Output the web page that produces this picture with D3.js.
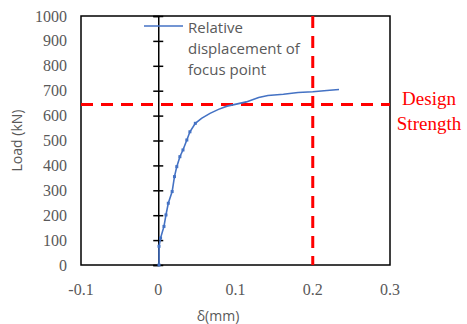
<!DOCTYPE html>
<html>
<head>
<meta charset="utf-8">
<script src="https://cdn.jsdelivr.net/npm/d3@7"></script>
<style>
  body { margin: 0; background: #fff; }
  svg { display: block; }
</style>
</head>
<body>
<svg id="chart" width="467" height="324"></svg>
<script>
// displacement (mm) vs load (kN)
const disp = [0.001, 0.001, 0.003, 0.0074, 0.010, 0.013, 0.018, 0.021, 0.024, 0.028, 0.032, 0.037, 0.041, 0.048, 0.056, 0.067, 0.078, 0.089, 0.101, 0.114, 0.130, 0.142, 0.162, 0.181, 0.200, 0.222, 0.234];
const load = [0, 75, 108, 155, 201, 248, 295, 355, 395, 435, 462, 502, 535, 569, 589, 609, 625, 638, 646, 655, 673, 681, 686, 693, 696, 702, 705];
const xTicks = [-0.1, 0, 0.1, 0.2, 0.3];
const yTicks = [0, 100, 200, 300, 400, 500, 600, 700, 800, 900, 1000];
const designLoad = 645;
const designDisp = 0.2;

const svg = d3.select("#chart");
const pLeft = 81, pRight = 390, pTop = 16, pBottom = 265;
const x = d3.scaleLinear().domain([-0.1, 0.3]).range([pLeft, pRight]);
const y = d3.scaleLinear().domain([0, 1000]).range([pBottom, pTop]);
const gray = "#595959";
const serif = "'Liberation Serif', 'DejaVu Serif', serif";
const sans = "'Open Sans', 'Liberation Sans', sans-serif";

// frame
svg.append("rect")
  .attr("x", pLeft).attr("y", pTop)
  .attr("width", pRight - pLeft).attr("height", pBottom - pTop)
  .attr("fill", "none").attr("stroke", "#000").attr("stroke-width", 1.5);

// y axis through x = 0 with crossing ticks
const yAxis = svg.append("g")
  .attr("transform", `translate(${x(0)},0)`)
  .call(d3.axisLeft(y).tickValues(yTicks).tickSize(5).tickFormat(""));
yAxis.select(".domain").attr("stroke", "#000").attr("stroke-width", 1.5);
yAxis.selectAll(".tick line").attr("x2", 5).attr("x1", -5).attr("stroke-width", 1.5);

// tick labels
svg.append("g").selectAll("text")
  .data(yTicks).enter().append("text")
  .attr("x", 67).attr("y", d => y(d))
  .attr("text-anchor", "end").attr("dominant-baseline", "central")
  .attr("font-family", serif).attr("font-size", 16).attr("fill", gray)
  .text(d => d);
svg.append("g").selectAll("text")
  .data(xTicks).enter().append("text")
  .attr("x", d => x(d)).attr("y", 289)
  .attr("text-anchor", "middle").attr("dominant-baseline", "central")
  .attr("font-family", serif).attr("font-size", 16).attr("fill", gray)
  .text(d => d);

// axis titles
svg.append("text")
  .attr("transform", `translate(16,${(pTop + pBottom) / 2}) rotate(-90)`)
  .attr("text-anchor", "middle").attr("dominant-baseline", "central")
  .attr("font-family", sans).attr("font-size", 14).attr("fill", gray)
  .text("Load (kN)");
svg.append("text")
  .attr("x", 218).attr("y", 315)
  .attr("text-anchor", "middle").attr("dominant-baseline", "central")
  .attr("font-family", sans).attr("font-size", 14).attr("fill", gray)
  .text("δ(mm)");

// design strength dashed lines
svg.append("line")
  .attr("x1", pLeft).attr("x2", pRight)
  .attr("y1", y(designLoad)).attr("y2", y(designLoad))
  .attr("stroke", "#ff0000").attr("stroke-width", 3).attr("stroke-dasharray", "12,8");
svg.append("line")
  .attr("x1", x(designDisp)).attr("x2", x(designDisp))
  .attr("y1", pTop).attr("y2", pBottom)
  .attr("stroke", "#ff0000").attr("stroke-width", 3).attr("stroke-dasharray", "12,8");

// curve
const pts = disp.map((d, i) => [d, load[i]]);
svg.append("path")
  .datum(pts)
  .attr("fill", "none").attr("stroke", "#4472c4").attr("stroke-width", 1.6)
  .attr("d", d3.line().x(d => x(d[0])).y(d => y(d[1])));
svg.append("g").selectAll("rect")
  .data(pts.slice(0, 14)).enter().append("rect")
  .attr("x", d => x(d[0]) - 1.5).attr("y", d => y(d[1]) - 1.5)
  .attr("width", 3).attr("height", 3).attr("fill", "#4472c4");

// legend
svg.append("line")
  .attr("x1", 144).attr("x2", 183).attr("y1", 26).attr("y2", 26)
  .attr("stroke", "#4472c4").attr("stroke-width", 1.5);
const legendLines = ["Relative", "displacement of", "focus point"];
svg.append("g").selectAll("text")
  .data(legendLines).enter().append("text")
  .attr("x", 188).attr("y", (d, i) => 27 + i * 21)
  .attr("dominant-baseline", "central")
  .attr("font-family", sans).attr("font-size", 15).attr("fill", gray)
  .text(d => d);

// design strength label
svg.append("g").selectAll("text")
  .data(["Design", "Strength"]).enter().append("text")
  .attr("x", 429).attr("y", (d, i) => 98 + i * 25)
  .attr("text-anchor", "middle").attr("dominant-baseline", "central")
  .attr("font-family", serif).attr("font-size", 19).attr("fill", "#ff0000")
  .text(d => d);
</script>
</body>
</html>
